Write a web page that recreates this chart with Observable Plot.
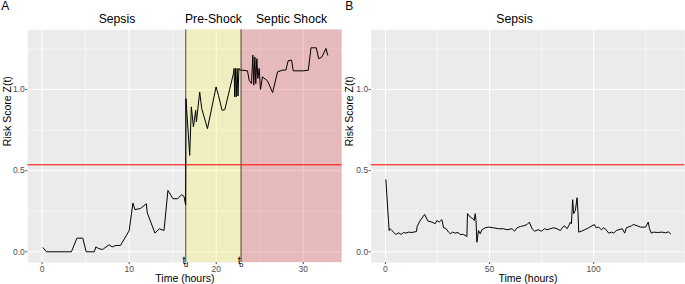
<!DOCTYPE html>
<html>
<head>
<meta charset="utf-8">
<script src="https://cdn.jsdelivr.net/npm/d3@7"></script>
<script src="https://cdn.jsdelivr.net/npm/@observablehq/plot@0.6"></script>
<style>
  body { margin: 0; background: white; }
  #wrap { position: relative; width: 685px; height: 284px; overflow: hidden; }
  #wrap svg { position: absolute; top: 0; }
</style>
</head>
<body>
<div id="wrap"></div>
<script>
// ---------- Data ----------
// Panel A: patient who progresses to septic shock
const aTime = [0.11, 0.5, 3.37, 4.0, 4.68, 5.06, 6.0, 6.17, 6.5, 6.94, 7.7, 8.05, 8.47, 9.0,
  10.0, 10.43, 10.66, 11.3, 11.97, 12.08, 12.96, 13.46, 14.0, 14.45, 15.03, 15.57, 16.03, 16.3, 16.48,
  16.52, 16.95, 17.14, 17.38, 17.64, 17.72, 18.1, 18.33, 18.99, 19.98, 20.25, 20.67, 20.98, 21.98,
  22.05, 22.12, 22.2, 22.3, 22.4, 22.5, 22.6, 22.7, 22.85,
  23.59, 23.78, 24.05, 24.2, 24.31, 24.43, 24.54, 24.66, 24.78, 24.93, 25.08, 25.31, 25.89, 26.47,
  27.04, 27.62, 28.0, 28.26, 28.65, 28.84, 29.92, 30.57, 30.88, 31.49, 31.76, 32.1, 32.6, 32.8];
const aRisk = [0.025, 0.0, 0.0, 0.084, 0.084, 0.0, 0.0, 0.03, 0.02, 0.014, 0.043, 0.03, 0.039, 0.039,
  0.13, 0.30, 0.26, 0.267, 0.296, 0.24, 0.115, 0.142, 0.131, 0.378, 0.327, 0.327, 0.352, 0.341, 0.29,
  0.944, 0.594, 0.893, 0.77, 0.872, 0.80, 0.985, 0.883, 0.759, 1.016, 0.965, 0.872, 0.876, 1.10,
  1.13, 0.955, 1.13, 0.955, 1.13, 0.96, 1.13, 1.12, 1.12,
  1.115, 1.057, 1.037, 1.212, 1.027, 1.20, 1.037, 1.19, 1.068, 1.13, 1.0, 1.078, 1.053, 0.981,
  1.109, 1.119, 1.12, 1.177, 1.181, 1.115, 1.115, 1.119, 1.257, 1.257, 1.19, 1.198, 1.253, 1.212];

// Panel B: patient who stays in sepsis
const bTime = [0.2, 1.45, 1.78, 2.26, 3.07, 3.85, 4.98, 6.3, 7.55, 8.7, 9.8, 11.1, 12.7, 14.9, 15.2,
  16.7, 18.8, 20.4, 22.3, 23.9, 24.7, 25.8, 27.1, 27.9, 29.0, 30.3, 31.1, 32.2, 33.5, 34.8, 35.9,
  37.5, 39.1, 39.4, 40.7, 42.0, 42.6, 43.1, 43.5, 43.9, 44.7, 45.5, 46.3, 47.9, 49.5, 51.9, 54.3,
  56.7, 58.4, 60.8, 62.0, 63.2, 64.8, 66.3, 68.0, 69.1, 70.4, 71.6, 73.3, 74.9, 76.4, 77.6, 79.2,
  80.8, 82.4, 84.0, 85.1, 86.1, 87.2, 88.0, 88.8, 89.3, 89.9, 90.4, 91.2, 92.0, 92.5, 92.8, 94.1,
  95.7, 97.6, 99.2, 100.3, 101.2, 102.4, 103.7, 104.8, 106.0, 107.2, 108.5, 109.6, 110.8, 112.0,
  113.7, 114.9, 115.7, 116.5, 118.1, 119.2, 120.9, 122.5, 124.9, 126.2, 126.8, 127.7, 128.8, 130.5,
  132.9, 134.5, 135.8, 136.9];
const bRisk = [0.444, 0.193, 0.131, 0.142, 0.131, 0.121, 0.107, 0.117, 0.107, 0.119, 0.115, 0.121, 0.119, 0.125, 0.156,
  0.193, 0.23, 0.189, 0.183, 0.173, 0.193, 0.183, 0.198, 0.148, 0.144, 0.121, 0.111, 0.121, 0.115, 0.119, 0.107,
  0.107, 0.094, 0.235, 0.214, 0.204, 0.193, 0.235, 0.193, 0.059, 0.131, 0.111, 0.136, 0.148, 0.152, 0.148, 0.142,
  0.142, 0.136, 0.142, 0.127, 0.148, 0.156, 0.16, 0.168, 0.183, 0.142, 0.127, 0.136, 0.127, 0.142, 0.136, 0.142,
  0.148, 0.142, 0.131, 0.152, 0.16, 0.142, 0.16, 0.183, 0.173, 0.321, 0.235, 0.255, 0.333, 0.235, 0.121, 0.127,
  0.136, 0.148, 0.16, 0.168, 0.148, 0.152, 0.136, 0.148, 0.136, 0.115, 0.121, 0.115, 0.131, 0.136,
  0.142, 0.115, 0.148, 0.152, 0.16, 0.168, 0.16, 0.152, 0.152, 0.183, 0.142, 0.115, 0.121, 0.119,
  0.121, 0.117, 0.123, 0.111];

// Event times (hours) and decision threshold
const tDetect = 16.5;   // t_d
const tOnset = 22.85;   // t_o
const threshold = 0.536;

// Tick values
const yTicks = [0, 0.5, 1.0];
const yMinor = [0.25, 0.75, 1.25];
const aTicks = [0, 10, 20, 30];
const aMinor = [5, 15, 25];
const bTicks = [0, 50, 100];
const bMinor = [25, 75, 125];

// Labels
const aPhaseNames = ["Sepsis", "Pre-Shock", "Septic Shock"];
const bPhaseNames = ["Sepsis"];
const eventNames = ["d", "o"];

// ---------- Chart ----------
const font = "'Liberation Sans', Arial, sans-serif";
const yDomain = [-0.066, 1.368];

function panel({width, marginLeft, marginRight, xDomain, xTicks, xMinor, data, phases, events, letter}) {
  const marks = [
    Plot.frame({fill: "#EBEBEB", stroke: null}),
    Plot.gridX(xMinor, {stroke: "white", strokeOpacity: 1, strokeWidth: 0.55}),
    Plot.gridY(yMinor, {stroke: "white", strokeOpacity: 1, strokeWidth: 0.55}),
    Plot.gridX(xTicks, {stroke: "white", strokeOpacity: 1, strokeWidth: 1.1}),
    Plot.gridY(yTicks, {stroke: "white", strokeOpacity: 1, strokeWidth: 1.1}),
    Plot.rect(phases.filter(p => p.fill), {x1: "start", x2: "end", fill: "fill", fillOpacity: 0.25}),
    Plot.ruleX(events, {x: "t", stroke: "#2a2a1e", strokeWidth: 0.8}),
    Plot.ruleY([threshold], {stroke: "#FF0000", strokeWidth: 1}),
    Plot.line(data, {x: "t", y: "z", stroke: "black", strokeWidth: 1}),
    Plot.axisX({ticks: xTicks, tickSize: 2, tickPadding: 1.5, fontSize: 8.5, color: "#4D4D4D", label: null}),
    Plot.axisY({ticks: yTicks, tickFormat: d => d.toFixed(1), tickSize: 2, tickPadding: 1, fontSize: 8.5, color: "#4D4D4D", label: null}),
    // phase titles
    Plot.text(phases, {x: d => (d.start + d.end) / 2, text: "name", frameAnchor: "top", dy: -10.5,
      fontSize: 12.2, fill: "black", lineAnchor: "middle"}),
    // event labels t_d / t_o
    Plot.text(events, {x: "t", text: () => "t", frameAnchor: "bottom", lineAnchor: "bottom",
      textAnchor: "end", dx: -0.3, dy: 1.6, fontSize: 11, fill: "black"}),
    Plot.text(events, {x: "t", text: "name", frameAnchor: "bottom", lineAnchor: "bottom",
      textAnchor: "start", dx: -1.8, dy: 4.8, fontSize: 7.5, fill: "black"}),
    // axis titles
    Plot.text(["Time (hours)"], {frameAnchor: "bottom", lineAnchor: "bottom", dy: 19.5,
      fontSize: 10.5, fill: "black"}),
    Plot.text(["Risk Score Z(t)"], {frameAnchor: "left", rotate: -90, dx: -(marginLeft - 7.6),
      fontSize: 10.5, fill: "black"}),
    // panel letter
    Plot.text([letter], {frameAnchor: "top-left", textAnchor: "start", lineAnchor: "top",
      dx: -marginLeft + (letter === "A" ? 0.8 : 2.7), dy: -28.3, fontSize: 12, fill: "black"})
  ];
  return Plot.plot({
    width, height: 284,
    marginLeft, marginRight, marginTop: 29.3, marginBottom: 22,
    x: {domain: xDomain},
    y: {domain: yDomain},
    style: {fontFamily: font, background: "white", color: "black", overflow: "visible"},
    marks
  });
}

const aData = aTime.map((t, i) => ({t, z: aRisk[i]}));
const bData = bTime.map((t, i) => ({t, z: bRisk[i]}));
const aXDomain = [-1.64, 34.44];
const bXDomain = [-6.85, 143.75];

const aPhases = [
  {name: aPhaseNames[0], start: 0.7, end: tDetect, fill: null},
  {name: aPhaseNames[1], start: tDetect, end: tOnset, fill: "#F7F73F"},
  {name: aPhaseNames[2], start: tOnset, end: 35, fill: "#D7232B"}
];
aPhases[2].end = aXDomain[1];
const bPhases = [{name: bPhaseNames[0], start: 0, end: 124, fill: null}];
const aEvents = [{t: tDetect, name: eventNames[0]}, {t: tOnset, name: eventNames[1]}];

const svgA = panel({width: 342, marginLeft: 27.3, marginRight: 0.5, xDomain: aXDomain,
  xTicks: aTicks, xMinor: aMinor, data: aData, phases: aPhases, events: aEvents, letter: "A"});
const svgB = panel({width: 343, marginLeft: 28.7, marginRight: 0.7, xDomain: bXDomain,
  xTicks: bTicks, xMinor: bMinor, data: bData, phases: bPhases, events: [], letter: "B"});
svgA.style.left = "0px";
svgB.style.left = "342px";
document.getElementById("wrap").append(svgA, svgB);
</script>
</body>
</html>
